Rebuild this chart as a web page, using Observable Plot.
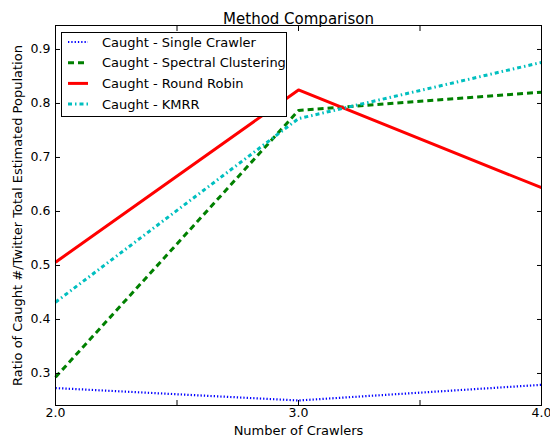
<!DOCTYPE html>
<html>
<head>
<meta charset="utf-8">
<script src="https://cdn.jsdelivr.net/npm/d3@7"></script>
<script src="https://cdn.jsdelivr.net/npm/@observablehq/plot@0.6"></script>
<style>
  html, body { margin: 0; padding: 0; background: #fff; }
  #chart svg { font-family: "DejaVu Sans", sans-serif; }
</style>
</head>
<body>
<div id="chart"></div>
<script>
const crawlers = [2, 3, 4];
const seriesNames = ["Caught - Single Crawler", "Caught - Spectral Clustering", "Caught - Round Robin", "Caught - KMRR"];
const singleCrawler = [0.273, 0.250, 0.279];
const spectralClustering = [0.293, 0.787, 0.821];
const roundRobin = [0.506, 0.825, 0.644];
const kmrr = [0.432, 0.772, 0.876];
const xTicks = [2, 2.5, 3, 3.5, 4];
const xLabelTicks = [2, 3, 4];
const yTicks = [0.3, 0.4, 0.5, 0.6, 0.7, 0.8, 0.9];

const styles = [
  {stroke: "#0000ff", strokeWidth: 2.2, dash: "1.3,2"},
  {stroke: "#008000", strokeWidth: 3, dash: "6,4"},
  {stroke: "#ff0000", strokeWidth: 3, dash: null},
  {stroke: "#00bfbf", strokeWidth: 3, dash: "4,3,1.5,3"}
];
const allValues = [singleCrawler, spectralClustering, roundRobin, kmrr];
const rows = allValues.map((vals, i) => crawlers.map((c, j) => ({series: seriesNames[i], x: c, y: vals[j]})));

const marks = [];
rows.forEach((data, i) => {
  const s = styles[i];
  marks.push(Plot.line(data, {x: "x", y: "y", stroke: s.stroke, strokeWidth: s.strokeWidth, strokeDasharray: s.dash, strokeLinecap: "butt"}));
});

const plot = Plot.plot({
  width: 550,
  height: 443,
  marginLeft: 55,
  marginRight: 9,
  marginTop: 25,
  marginBottom: 38,
  style: {fontFamily: "DejaVu Sans, sans-serif", fontSize: "13px", color: "#000", background: "#fff", overflow: "visible"},
  x: {domain: [2, 4], label: null},
  y: {domain: [0.2407, 0.9444], label: null},
  marks: [
    ...marks,
    Plot.frame({stroke: "#000", strokeWidth: 1}),
    Plot.axisX(xTicks, {anchor: "bottom", tickSize: -5, tickFormat: () => "", label: null}),
    Plot.axisX(xTicks, {anchor: "top", tickSize: -5, tickFormat: () => "", label: null}),
    Plot.axisX(xLabelTicks, {anchor: "bottom", tickSize: 0, tickPadding: 3, tickFormat: d => d.toFixed(1), fontSize: 12.5, label: null}),
    Plot.axisY(yTicks, {anchor: "left", tickSize: -5, tickPadding: 10, tickFormat: d => d.toFixed(1), fontSize: 12.5, label: null}),
    Plot.axisY(yTicks, {anchor: "right", tickSize: -5, tickFormat: () => "", label: null}),
    Plot.text(["Method Comparison"], {frameAnchor: "top", dy: -12, fontSize: 15, fill: "#000", textAnchor: "middle"}),
    Plot.text(["Number of Crawlers"], {frameAnchor: "bottom", dy: 29, fontSize: 13, fill: "#000", textAnchor: "middle"}),
    Plot.text(["Ratio of Caught #/Twitter Total Estimated Population"], {frameAnchor: "left", dx: -38, rotate: -90, fontSize: 13, fill: "#000", textAnchor: "middle"})
  ]
});
document.getElementById("chart").appendChild(plot);

// Legend (matplotlib-style box, upper left)
const svg = d3.select(plot);
const lg = svg.append("g").attr("font-family", "DejaVu Sans, sans-serif").attr("font-size", 13).attr("text-anchor", "start");
lg.append("rect").attr("x", 61.5).attr("y", 32.5).attr("width", 225).attr("height", 84)
  .attr("fill", "#fff").attr("stroke", "#000").attr("stroke-width", 1);
seriesNames.forEach((name, i) => {
  const yy = 42 + i * 20.7;
  const s = styles[i];
  lg.append("line").attr("x1", 68).attr("x2", 88).attr("y1", yy).attr("y2", yy)
    .attr("stroke", s.stroke).attr("stroke-width", s.strokeWidth)
    .attr("stroke-dasharray", s.dash);
  lg.append("text").attr("x", 102).attr("y", yy).attr("dy", "0.35em").attr("fill", "#000")
    .attr("text-anchor", "start").text(name);
});
</script>
</body>
</html>
